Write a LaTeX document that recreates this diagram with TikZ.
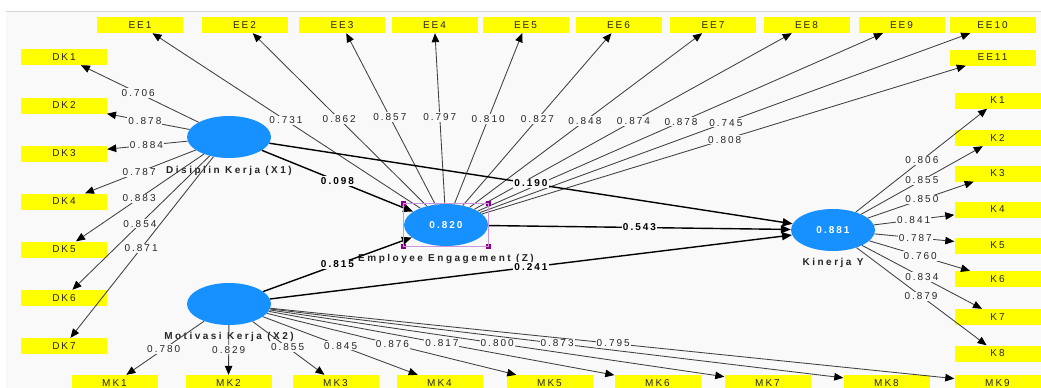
\documentclass[tikz,border=0pt]{standalone}
\usepackage{fontspec}
\newfontfamily\plsfont[LetterSpace=20]{Liberation Sans}
\newfontfamily\plsnamefont[LetterSpace=25]{Liberation Sans}
\usetikzlibrary{shapes.geometric,arrows.meta,positioning,calc}
\definecolor{plsblue}{RGB}{22,145,255}
\definecolor{plsyellow}{RGB}{255,255,0}
\definecolor{canvas}{RGB}{249,249,249}
\definecolor{rulegray}{RGB}{214,214,214}
\definecolor{handlepurple}{RGB}{135,0,140}
\definecolor{selframe}{RGB}{205,150,220}
\tikzstyle{latent} = [ellipse, minimum width=84pt, minimum height=42pt, inner sep=0pt, fill=plsblue, text=white, font=\plsfont\bfseries\fontsize{10}{11}\selectfont]
\tikzstyle{indicator} = [rectangle, minimum width=86pt, minimum height=16pt, inner sep=0pt, fill=plsyellow, text=black!85, font=\plsfont\fontsize{10}{11}\selectfont]
\tikzstyle{latentname} = [inner sep=1pt, text=black!85, font=\plsnamefont\bfseries\fontsize{10}{11}\selectfont]
\tikzstyle{loadlbl} = [fill=canvas, inner sep=1pt, text=black!85, font=\plsfont\fontsize{10}{11}\selectfont]
\tikzstyle{pathlbl} = [fill=canvas, inner sep=1pt, font=\plsfont\bfseries\fontsize{10}{11}\selectfont]
\tikzstyle{loading} = [draw=black!75, line width=0.85pt, -{Triangle[length=9pt,width=7.5pt,color=black]}]
\tikzstyle{structural} = [draw=black, line width=1.4pt, -{Triangle[length=10pt,width=8pt]}]
\tikzstyle{handlebox} = [rectangle, minimum size=5pt, inner sep=0pt, fill=handlepurple]
\begin{document}
\begin{tikzpicture}[x=1pt, y=-1pt]
        \useasboundingbox (0,0) rectangle (1041,388);
        % Canvas
        \fill [canvas] (6,11) rectangle (1041,388);
        \draw [rulegray, line width=1pt] (6,11) -- (1041,11);

        % Latent variables
        \node (disiplin) [latent] at (229,137) {};
        \node (engagement) [latent] at (446,225) {0.820};
        \node (motivasi) [latent] at (229,304) {};
        \node (kinerja) [latent] at (833,230) {0.881};
        \node (disiplin_name) [latentname, below=7pt of disiplin] {Disiplin Kerja (X1)};
        \node (engagement_name) [latentname, below=7pt of engagement] {Employee Engagement (Z)};
        \node (motivasi_name) [latentname, below=6pt of motivasi] {Motivasi Kerja (X2)};
        \node (kinerja_name) [latentname, below=5.5pt of kinerja] {Kinerja Y};

        % Indicators of Disiplin Kerja (X1)
        \node (dk1) [indicator] at (64,57) {DK1};
        \node (dk2) [indicator] at (64,105.5) {DK2};
        \node (dk3) [indicator] at (64,153.5) {DK3};
        \node (dk4) [indicator] at (64,201.5) {DK4};
        \node (dk5) [indicator] at (64,249.5) {DK5};
        \node (dk6) [indicator] at (64,298) {DK6};
        \node (dk7) [indicator] at (64,346) {DK7};

        % Indicators of Employee Engagement (Z)
        \node (ee1) [indicator] at (140,25) {EE1};
        \node (ee2) [indicator] at (244.5,25) {EE2};
        \node (ee3) [indicator] at (342,25) {EE3};
        \node (ee4) [indicator] at (434.5,25) {EE4};
        \node (ee5) [indicator] at (525.5,25) {EE5};
        \node (ee6) [indicator] at (618.5,25) {EE6};
        \node (ee7) [indicator] at (713,25) {EE7};
        \node (ee8) [indicator] at (806.5,25) {EE8};
        \node (ee9) [indicator] at (901.5,25) {EE9};
        \node (ee10) [indicator] at (992.5,25) {EE10};
        \node (ee11) [indicator] at (992.5,57.5) {EE11};

        % Indicators of Kinerja Y
        \node (k1) [indicator] at (997.5,100.5) {K1};
        \node (k2) [indicator] at (997.5,138) {K2};
        \node (k3) [indicator] at (997.5,173.5) {K3};
        \node (k4) [indicator] at (997.5,209.5) {K4};
        \node (k5) [indicator] at (997.5,245.5) {K5};
        \node (k6) [indicator] at (997.5,279) {K6};
        \node (k7) [indicator] at (997.5,317) {K7};
        \node (k8) [indicator] at (997.5,353.5) {K8};

        % Indicators of Motivasi Kerja (X2)
        \node (mk1) [indicator] at (114.5,383) {MK1};
        \node (mk2) [indicator] at (228.5,383) {MK2};
        \node (mk3) [indicator] at (335.5,383) {MK3};
        \node (mk4) [indicator] at (439.5,383) {MK4};
        \node (mk5) [indicator] at (549.5,383) {MK5};
        \node (mk6) [indicator] at (657.5,383) {MK6};
        \node (mk7) [indicator] at (767.5,383) {MK7};
        \node (mk8) [indicator] at (886.5,383) {MK8};
        \node (mk9) [indicator] at (997.5,383) {MK9};

        % Outer loadings
        \draw [loading] (disiplin) -- (dk1);
        \draw [loading] (disiplin) -- (dk2);
        \draw [loading] (disiplin) -- (dk3);
        \draw [loading] (disiplin) -- (dk4);
        \draw [loading] (disiplin) -- (dk5);
        \draw [loading] (disiplin) -- (dk6);
        \draw [loading] (disiplin) -- (dk7);
        \draw [loading] (engagement) -- (ee1);
        \draw [loading] (engagement) -- (ee2);
        \draw [loading] (engagement) -- (ee3);
        \draw [loading] (engagement) -- (ee4);
        \draw [loading] (engagement) -- (ee5);
        \draw [loading] (engagement) -- (ee6);
        \draw [loading] (engagement) -- (ee7);
        \draw [loading] (engagement) -- (ee8);
        \draw [loading] (engagement) -- (ee9);
        \draw [loading] (engagement) -- (ee10);
        \draw [loading] (engagement) -- (ee11);
        \draw [loading] (kinerja) -- (k1);
        \draw [loading] (kinerja) -- (k2);
        \draw [loading] (kinerja) -- (k3);
        \draw [loading] (kinerja) -- (k4);
        \draw [loading] (kinerja) -- (k5);
        \draw [loading] (kinerja) -- (k6);
        \draw [loading] (kinerja) -- (k7);
        \draw [loading] (kinerja) -- (k8);
        \draw [loading] (motivasi) -- (mk1);
        \draw [loading] (motivasi) -- (mk2);
        \draw [loading] (motivasi) -- (mk3);
        \draw [loading] (motivasi) -- (mk4);
        \draw [loading] (motivasi) -- (mk5);
        \draw [loading] (motivasi) -- (mk6);
        \draw [loading] (motivasi) -- (mk7);
        \draw [loading] (motivasi) -- (mk8);
        \draw [loading] (motivasi) -- (mk9);

        % Loading values
        \node (w_dk1) [loadlbl] at ($(disiplin)!0.55!(dk1)$) {0.706};
        \node (w_dk2) [loadlbl] at ($(disiplin)!0.51!(dk2)$) {0.878};
        \node (w_dk3) [loadlbl] at ($(disiplin)!0.50!(dk3)$) {0.884};
        \node (w_dk4) [loadlbl] at ($(disiplin)!0.545!(dk4)$) {0.787};
        \node (w_dk5) [loadlbl] at ($(disiplin)!0.545!(dk5)$) {0.883};
        \node (w_dk6) [loadlbl] at ($(disiplin)!0.54!(dk6)$) {0.854};
        \node (w_dk7) [loadlbl] at ($(disiplin)!0.533!(dk7)$) {0.871};
        \node (w_ee1) [loadlbl] at ($(engagement)!0.523!(ee1)$) {0.731};
        \node (w_ee2) [loadlbl] at ($(engagement)!0.53!(ee2)$) {0.862};
        \node (w_ee3) [loadlbl] at ($(engagement)!0.54!(ee3)$) {0.857};
        \node (w_ee4) [loadlbl] at ($(engagement)!0.54!(ee4)$) {0.797};
        \node (w_ee5) [loadlbl] at ($(engagement)!0.53!(ee5)$) {0.810};
        \node (w_ee6) [loadlbl] at ($(engagement)!0.53!(ee6)$) {0.827};
        \node (w_ee7) [loadlbl] at ($(engagement)!0.52!(ee7)$) {0.848};
        \node (w_ee8) [loadlbl] at ($(engagement)!0.52!(ee8)$) {0.874};
        \node (w_ee9) [loadlbl] at ($(engagement)!0.516!(ee9)$) {0.878};
        \node (w_ee10) [loadlbl] at ($(engagement)!0.512!(ee10)$) {0.745};
        \node (w_ee11) [loadlbl] at ($(engagement)!0.51!(ee11)$) {0.808};
        \node (w_k1) [loadlbl] at ($(kinerja)!0.54!(k1)$) {0.806};
        \node (w_k2) [loadlbl] at ($(kinerja)!0.54!(k2)$) {0.855};
        \node (w_k3) [loadlbl] at ($(kinerja)!0.54!(k3)$) {0.850};
        \node (w_k4) [loadlbl] at ($(kinerja)!0.49!(k4)$) {0.841};
        \node (w_k5) [loadlbl] at ($(kinerja)!0.50!(k5)$) {0.787};
        \node (w_k6) [loadlbl] at ($(kinerja)!0.53!(k6)$) {0.760};
        \node (w_k7) [loadlbl] at ($(kinerja)!0.54!(k7)$) {0.834};
        \node (w_k8) [loadlbl] at ($(kinerja)!0.535!(k8)$) {0.879};
        \node (w_mk1) [loadlbl] at ($(motivasi)!0.57!(mk1)$) {0.780};
        \node (w_mk2) [loadlbl] at ($(motivasi)!0.58!(mk2)$) {0.829};
        \node (w_mk3) [loadlbl] at ($(motivasi)!0.55!(mk3)$) {0.855};
        \node (w_mk4) [loadlbl] at ($(motivasi)!0.53!(mk4)$) {0.845};
        \node (w_mk5) [loadlbl] at ($(motivasi)!0.51!(mk5)$) {0.876};
        \node (w_mk6) [loadlbl] at ($(motivasi)!0.497!(mk6)$) {0.817};
        \node (w_mk7) [loadlbl] at ($(motivasi)!0.498!(mk7)$) {0.800};
        \node (w_mk8) [loadlbl] at ($(motivasi)!0.499!(mk8)$) {0.873};
        \node (w_mk9) [loadlbl] at ($(motivasi)!0.50!(mk9)$) {0.795};

        % Structural paths
        \draw [structural] (disiplin) -- node [pathlbl] {0.098} (engagement);
        \draw [structural] (disiplin) -- node [pathlbl] {0.190} (kinerja);
        \draw [structural] (motivasi) -- node [pathlbl] {0.815} (engagement);
        \draw [structural] (motivasi) -- node [pathlbl] {0.241} (kinerja);
        \draw [structural] (engagement) -- node [pathlbl] {0.543} (kinerja);

        % Selection handles on Employee Engagement (Z)
        \node (h_nw) [handlebox] at (engagement.west |- engagement.north) {};
        \node (h_ne) [handlebox] at (engagement.east |- engagement.north) {};
        \node (h_sw) [handlebox] at (engagement.west |- engagement.south) {};
        \node (h_se) [handlebox] at (engagement.east |- engagement.south) {};
        \draw [selframe, line width=0.7pt] (h_nw.center) rectangle (h_se.center);
    \end{tikzpicture}
\end{document}
